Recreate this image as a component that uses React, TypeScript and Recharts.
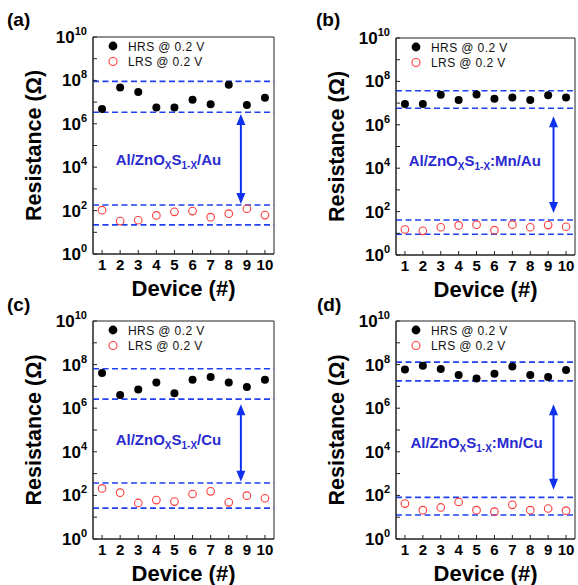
import {
  ScatterChart,
  Scatter,
  XAxis,
  YAxis,
  ReferenceLine,
  ReferenceDot,
  ReferenceArea,
  Legend,
} from 'recharts';

const FONT = '"Liberation Sans", Arial, Helvetica, sans-serif';
const HRS_COLOR = '#000000';
const LRS_COLOR = '#ff3b3b';
const DASH_COLOR = '#2040f0';
const ARROW_COLOR = '#1030f0';
const TEXT_BLUE = '#2a2ad0';
const AXIS_COLOR = '#222222';

const DEVICES = [1, 2, 3, 4, 5, 6, 7, 8, 9, 10];
const DECADES = [1, 1e1, 1e2, 1e3, 1e4, 1e5, 1e6, 1e7, 1e8, 1e9, 1e10];

// (a) Al/ZnOxS1-x/Au
const HRS_A = [4.8e6, 4.7e7, 2.9e7, 5.7e6, 5.7e6, 1.3e7, 8e6, 6.3e7, 7.4e6, 1.6e7];
const LRS_A = [105, 33, 36, 60, 88, 95, 50, 72, 122, 62];
const HRS_BAND_A = [9e7, 3.4e6];
const LRS_BAND_A = [180, 22];
const GAP_A = [2.8e6, 200];

// (b) Al/ZnOxS1-x:Mn/Au
const HRS_B = [9.1e6, 9e6, 2.4e7, 1.4e7, 2.5e7, 1.6e7, 1.8e7, 1.4e7, 2.3e7, 1.8e7];
const LRS_B = [15, 13, 19, 23, 25, 14, 25, 19, 24, 20];
const HRS_BAND_B = [3.7e7, 5.8e6];
const LRS_BAND_B = [41, 9];
const GAP_B = [2.5e6, 87];

// (c) Al/ZnOxS1-x/Cu
const HRS_C = [4.1e7, 4e6, 7.3e6, 1.5e7, 4.8e6, 2e7, 2.7e7, 1.5e7, 9.4e6, 2e7];
const LRS_C = [210, 134, 45, 61, 52, 116, 154, 48, 97, 74];
const HRS_BAND_C = [6.5e7, 2.6e6];
const LRS_BAND_C = [370, 26];
const GAP_C = [1.5e6, 420];

// (d) Al/ZnOxS1-x:Mn/Cu
const HRS_D = [5.9e7, 8.8e7, 6.3e7, 3.3e7, 2.3e7, 3.8e7, 8.1e7, 3.3e7, 2.7e7, 5.7e7];
const LRS_D = [42, 21, 28, 50, 21, 18, 37, 21, 25, 20];
const HRS_BAND_D = [1.3e8, 1.8e7];
const LRS_BAND_D = [81, 12.6];
const GAP_D = [1.5e6, 180];

const Y_AXIS_W = 60;
const X_AXIS_H = 30;

const PANELS = [
  {
    tag: '(a)', suffix: '/Au', hrs: HRS_A, lrs: LRS_A, hrsBand: HRS_BAND_A, lrsBand: LRS_BAND_A, gap: GAP_A,
    left: 0, top: 0, width: 288, height: 306,
    margin: { top: 37, right: 14, left: 33, bottom: 22 },
    arrowX: 8.67, textX: 4.67, textY: 2.1e4, tagTop: 10, tagLeft: 7,
  },
  {
    tag: '(b)', suffix: ':Mn/Au', hrs: HRS_B, lrs: LRS_B, hrsBand: HRS_BAND_B, lrsBand: LRS_BAND_B, gap: GAP_B,
    left: 288, top: 0, width: 290, height: 306,
    margin: { top: 38, right: 3, left: 48, bottom: 21 },
    arrowX: 9.3, textX: 4.9, textY: 2.1e4, tagTop: 10, tagLeft: 316,
  },
  {
    tag: '(c)', suffix: '/Cu', hrs: HRS_C, lrs: LRS_C, hrsBand: HRS_BAND_C, lrsBand: LRS_BAND_C, gap: GAP_C,
    left: 0, top: 290, width: 288, height: 295,
    margin: { top: 31, right: 14, left: 33, bottom: 16 },
    arrowX: 8.67, textX: 4.67, textY: 3.6e4, tagTop: 295, tagLeft: 7,
  },
  {
    tag: '(d)', suffix: ':Mn/Cu', hrs: HRS_D, lrs: LRS_D, hrsBand: HRS_BAND_D, lrsBand: LRS_BAND_D, gap: GAP_D,
    left: 288, top: 290, width: 290, height: 295,
    margin: { top: 31, right: 3, left: 48, bottom: 16 },
    arrowX: 9.3, textX: 5.0, textY: 2.6e4, tagTop: 295, tagLeft: 317,
  },
];

const DecadeTick = (props: any) => {
  const { x, y, payload } = props;
  const exp = Math.round(Math.log10(payload.value));
  if (exp % 2 !== 0) return <g />;
  return (
    <text x={x - 6} y={y + 6} textAnchor="end" fontFamily={FONT} fontWeight="bold" fontSize={17} fill="#000">
      10<tspan fontSize={11} dy={-8}>{exp}</tspan>
    </text>
  );
};

const DeviceTick = (props: any) => {
  const { x, y, payload } = props;
  return (
    <text x={x} y={y + 16} textAnchor="middle" fontFamily={FONT} fontWeight="bold" fontSize={15} fill="#000">
      {payload.value}
    </text>
  );
};

const HrsDot = (p: any) => <circle cx={p.cx} cy={p.cy} r={4} fill={HRS_COLOR} />;
const LrsDot = (p: any) => (
  <circle cx={p.cx} cy={p.cy} r={3.8} fill="none" stroke={LRS_COLOR} strokeWidth={1.1} />
);

const GapArrow = (p: any) => {
  const { x1, y1, y2 } = p;
  const top = Math.min(y1, y2);
  const bot = Math.max(y1, y2);
  const head = 11;
  const hw = 4.5;
  return (
    <g>
      <line x1={x1} y1={top + head - 2} x2={x1} y2={bot - head + 2} stroke={ARROW_COLOR} strokeWidth={2} />
      <polygon points={`${x1},${top} ${x1 - hw},${top + head} ${x1 + hw},${top + head}`} fill={ARROW_COLOR} />
      <polygon points={`${x1},${bot} ${x1 - hw},${bot - head} ${x1 + hw},${bot - head}`} fill={ARROW_COLOR} />
    </g>
  );
};

const Composition = ({ cx, cy, suffix }: { cx: number; cy: number; suffix: string }) => (
  <text x={cx} y={cy + 5} textAnchor="middle" fontFamily={FONT} fontWeight="bold" fontSize={15} fill={TEXT_BLUE}>
    Al/ZnO<tspan fontSize={10} dy={4}>X</tspan>
    <tspan dy={-4}>S</tspan>
    <tspan fontSize={10} dy={4}>1-X</tspan>
    <tspan dy={-4}>{suffix}</tspan>
  </text>
);

const LegendBox = () => (
  <svg width={130} height={32} style={{ display: 'block' }}>
    <circle cx={6} cy={6} r={4.4} fill={HRS_COLOR} />
    <text x={21} y={10.5} fontSize={12} letterSpacing={0.4} fill="#111" fontFamily={FONT}>
      HRS @ 0.2 V
    </text>
    <circle cx={6} cy={21.5} r={4} fill="none" stroke={LRS_COLOR} strokeWidth={1.1} />
    <text x={21} y={26} fontSize={12} letterSpacing={0.4} fill="#111" fontFamily={FONT}>
      LRS @ 0.2 V
    </text>
  </svg>
);

function Panel({ cfg }: { cfg: (typeof PANELS)[number] }) {
  const hrsData = DEVICES.map((d, i) => ({ device: d, r: cfg.hrs[i] }));
  const lrsData = DEVICES.map((d, i) => ({ device: d, r: cfg.lrs[i] }));
  const plotLeft = cfg.margin.left + Y_AXIS_W;
  const plotTop = cfg.margin.top;

  return (
    <div style={{ position: 'absolute', left: cfg.left, top: cfg.top }}>
      <ScatterChart width={cfg.width} height={cfg.height} margin={cfg.margin}>
        <XAxis
          dataKey="device"
          type="number"
          domain={[0.5, 10.5]}
          ticks={DEVICES}
          height={X_AXIS_H}
          tickSize={-4}
          tickMargin={4}
          tick={<DeviceTick />}
          stroke={AXIS_COLOR}
          interval={0}
          label={(lp: any) => {
            const vb = lp.viewBox;
            if (!vb) return null;
            return (
              <text x={vb.x + vb.width / 2} y={vb.y + 42} textAnchor="middle" fontFamily={FONT} fontWeight="bold" fontSize={22} fill="#000">
                Device (#)
              </text>
            );
          }}
        />
        <YAxis
          dataKey="r"
          type="number"
          scale="log"
          domain={[1, 1e10]}
          ticks={DECADES}
          allowDataOverflow
          width={Y_AXIS_W}
          tickSize={-4}
          tickMargin={4}
          tick={<DecadeTick />}
          stroke={AXIS_COLOR}
          interval={0}
          label={(lp: any) => {
            const vb = lp.viewBox;
            if (!vb) return null;
            const cx = vb.x;
            const cy = vb.y + vb.height / 2;
            return (
              <text x={cx} y={cy} transform={`rotate(-90 ${cx} ${cy})`} dy={7.5} textAnchor="middle" fontFamily={FONT} fontWeight="bold" fontSize={21.5} fill="#000">
                Resistance (Ω)
              </text>
            );
          }}
        />
        <ReferenceArea x1={0.5} x2={10.5} y1={1} y2={1e10} fill="none" stroke={AXIS_COLOR} strokeWidth={1} />
        {[...cfg.hrsBand, ...cfg.lrsBand].map((v, i) => (
          <ReferenceLine key={i} y={v} stroke={DASH_COLOR} strokeWidth={1.6} strokeDasharray="6 3.5" />
        ))}
        <ReferenceLine
          segment={[
            { x: cfg.arrowX, y: cfg.gap[0] },
            { x: cfg.arrowX, y: cfg.gap[1] },
          ]}
          shape={(p: any) => <GapArrow {...p} />}
        />
        <ReferenceDot
          x={cfg.textX}
          y={cfg.textY}
          r={0}
          shape={(p: any) => <Composition cx={p.cx} cy={p.cy} suffix={cfg.suffix} />}
        />
        <Scatter name="HRS @ 0.2 V" data={hrsData} shape={HrsDot} isAnimationActive={false} />
        <Scatter name="LRS @ 0.2 V" data={lrsData} shape={LrsDot} isAnimationActive={false} />
        <Legend
          layout="horizontal"
          verticalAlign="middle"
          align="center"
          content={() => <LegendBox />}
          wrapperStyle={{ left: plotLeft + 14, top: plotTop + 3, width: 130, height: 32 }}
        />
      </ScatterChart>
    </div>
  );
}

export default function App() {
  return (
    <div style={{ position: 'absolute', left: 0, top: 0, width: 578, height: 585, background: '#fff', fontFamily: FONT }}>
      {PANELS.map((p) => (
        <Panel key={p.tag} cfg={p} />
      ))}
      {PANELS.map((p) => (
        <div
          key={`tag-${p.tag}`}
          style={{ position: 'absolute', left: p.tagLeft, top: p.tagTop, fontSize: 19, lineHeight: '19px', fontWeight: 'bold', color: '#000' }}
        >
          {p.tag}
        </div>
      ))}
    </div>
  );
}
